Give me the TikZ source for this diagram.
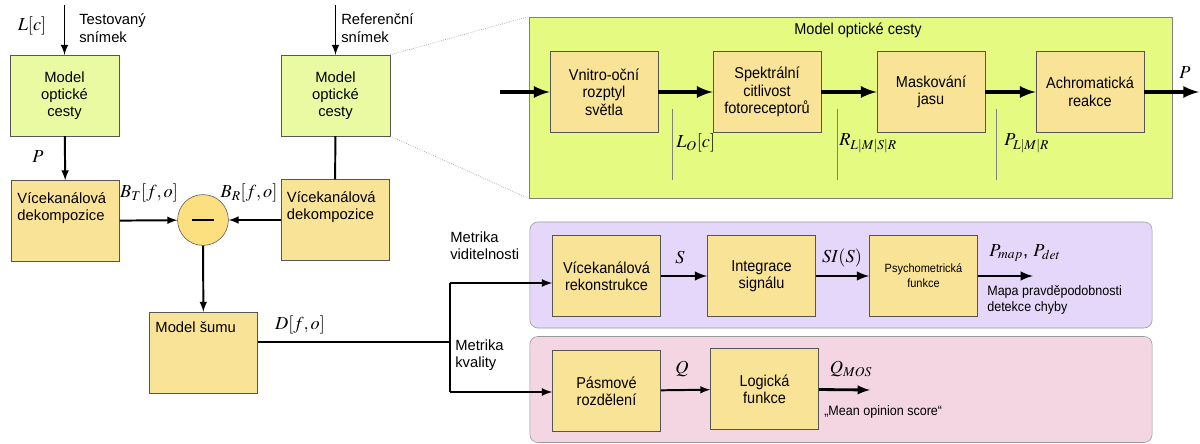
\documentclass[tikz,border=0pt]{standalone}
\usepackage{mathptmx}
\usepackage{fontspec}
\setmainfont{Liberation Sans}
\newfontfamily\narrowfont[FakeStretch=0.92]{Liberation Sans}

\definecolor{optgreen}{HTML}{E9FAA3}
\definecolor{biggreen}{HTML}{E5FA80}
\definecolor{blockyellow}{HTML}{F9E396}
\definecolor{minusyellow}{HTML}{FCE07F}
\definecolor{visviolet}{HTML}{E5D7FA}
\definecolor{qualpink}{HTML}{F3D6E1}
\definecolor{edgegray}{HTML}{555555}

\tikzset{
  optbox/.style={draw=edgegray,fill=optgreen,minimum width=2.72cm,minimum height=2.02cm,align=center,inner sep=0pt},
  blockbox/.style={draw=edgegray,fill=blockyellow,minimum width=2.7cm,minimum height=2.02cm,align=center,inner sep=0pt},
  txtlab/.style={anchor=north west,align=left,inner sep=0pt,xshift=0.15cm,yshift=-0.3cm},
  minusnode/.style={circle,draw=edgegray,fill=minusyellow,minimum size=1.27cm,inner sep=0pt},
  groupbox/.style={draw=gray!80,rounded corners=0.2cm,minimum width=15.55cm,minimum height=2.65cm},
  conn/.style={->,line width=1.4pt},
  fatconn/.style={->,line width=2.8pt},
  midconn/.style={->,line width=2pt},
  plainlab/.style={align=left,inner sep=0pt},
  mathlab/.style={inner sep=0pt,font=\fontsize{13}{15}\selectfont},
  innerfont/.style={font=\narrowfont\fontsize{11.2}{12.4}\selectfont},
}

\begin{document}
\begin{tikzpicture}[x=0.025cm,y=-0.025cm,>=latex,font=\fontsize{10.5}{12.3}\selectfont]
  \useasboundingbox (0,0) rectangle (1200,444);

  % left part
  \node[optbox] (optT) at (64.5,95.5) {Model\\optické\\cesty};
  \node[optbox] (optR) at (335.5,95.5) {Model\\optické\\cesty};
  \node[blockbox,label={[txtlab]north west:Vícekanálová\\dekompozice}] (dekT) at (65.5,221) {};
  \node[blockbox,label={[txtlab]north west:Vícekanálová\\dekompozice}] (dekR) at (335,220) {};
  \node[minusnode] (minus) at (203,220) {\rule[-1pt]{0.55cm}{2pt}};
  \node[blockbox,label={[txtlab,yshift=0.05cm]north west:Model šumu}] (sum) at (203.5,352.5) {};

  \coordinate (inT) at (64.5,5);
  \coordinate (inR) at (335.5,5);
  \node[mathlab] (lc) at (32,26) {$L[c]$};
  \node[plainlab,anchor=west] (testlab) at (79,28) {Testovaný\\snímek};
  \node[plainlab,anchor=west] (reflab) at (341,28) {Referenční\\snímek};
  \node[mathlab] (plab) at (38,157) {$P$};
  \node[mathlab] (btlab) at (149,193) {$B_T[f,o]$};
  \node[mathlab] (brlab) at (249,193) {$B_R[f,o]$};
  \node[mathlab] (dlab) at (300,325) {$D[f,o]$};

  \draw[conn] (inT) -- (optT);
  \draw[conn] (inR) -- (optR);
  \draw[conn] (optT) -- (dekT);
  \draw[line width=1.4pt] (optR) -- (dekR);
  \draw[conn] (dekT) -- (minus);
  \draw[conn] (dekR) -- (minus);
  \draw[conn] (minus) -- (sum);

  % model opticke cesty
  \node[draw=gray,fill=biggreen,minimum width=16.08cm,minimum height=4.53cm] (optbig) at (850.5,107.5) {};
  \node[inner sep=0pt,innerfont] (opttitle) at (858,30) {Model optické cesty};
  \begin{scope}[innerfont]
    \node[blockbox] (vnitro) at (604,92) {Vnitro-oční\\rozptyl\\světla};
    \node[blockbox] (spek) at (767,92) {Spektrální\\citlivost\\fotoreceptorů};
    \node[blockbox] (mask) at (931,92) {Maskování\\jasu};
    \node[blockbox] (achrom) at (1090,92) {Achromatická\\reakce};
  \end{scope}
  \coordinate (optin) at (500,92);
  \coordinate (optout) at (1199,92);
  \draw[fatconn] (optin) -- (vnitro);
  \draw[fatconn] (vnitro) -- (spek);
  \draw[fatconn] (spek) -- (mask);
  \draw[fatconn] (mask) -- (achrom);
  \draw[fatconn] (achrom) -- (optout);
  \draw[gray] (672,109) -- (672,180);
  \draw[gray] (837,109) -- (837,180);
  \draw[gray] (996,109) -- (996,180);
  \node[mathlab,anchor=west] (lolab) at (676,143) {$L_O[c]$};
  \node[mathlab,anchor=west] (rlab) at (839,143) {$R_{L|M|S|R}$};
  \node[mathlab,anchor=west] (pllab) at (1004,143) {$P_{L|M|R}$};
  \node[mathlab] (poutlab) at (1185,73) {$P$};
  \draw[gray,densely dotted] (optR.north east) -- (optbig.north west);
  \draw[gray,densely dotted] (optR.south east) -- (optbig.south west);

  % metrika viditelnosti
  \node[groupbox,fill=visviolet] (visgroup) at (841,275) {};
  \begin{scope}[innerfont]
    \node[blockbox] (rek) at (606.5,276) {Vícekanálová\\rekonstrukce};
    \node[blockbox] (integ) at (761.5,276) {Integrace\\signálu};
    \node[blockbox,font=\narrowfont\fontsize{8.5}{10.5}\selectfont] (psych) at (923.5,276) {Psychometrická\\funkce};
  \end{scope}
  \coordinate (visout) at (1033,276);
  \draw[midconn] (rek) -- (integ);
  \draw[midconn] (integ) -- (psych);
  \draw[midconn] (psych) -- (visout);
  \node[mathlab] (slab) at (680,258) {$S$};
  \node[mathlab] (silab) at (842,258) {$SI(S)$};
  \node[mathlab,anchor=west] (pmaplab) at (989,253) {$P_{map}$, $P_{det}$};
  \node[plainlab,anchor=west,font=\narrowfont\fontsize{9.7}{11.5}\selectfont] (maplab) at (987,300) {Mapa pravděpodobnosti\\detekce chyby};

  % metrika kvality
  \node[groupbox,fill=qualpink] (qualgroup) at (841,389.5) {};
  \begin{scope}[innerfont]
    \node[blockbox] (pas) at (606.5,391) {Pásmové\\rozdělení};
    \node[blockbox] (logf) at (764.5,389) {Logická\\funkce};
  \end{scope}
  \coordinate (qualout) at (870,390);
  \draw[conn] (pas) -- (logf);
  \draw[midconn] (logf) -- (qualout);
  \node[mathlab] (qlab) at (682,369) {$Q$};
  \node[mathlab] (qmoslab) at (851,369) {$Q_{MOS}$};
  \node[plainlab,anchor=west,font=\narrowfont\fontsize{9.7}{11.5}\selectfont] (moslab) at (824,412) {„Mean opinion score“};

  % rozdeleni
  \coordinate (split) at (450,342);
  \coordinate (jtop) at (450,283);
  \coordinate (jbot) at (450,392);
  \draw[line width=1.4pt] (sum.east |- split) -- (split);
  \draw[line width=1.5pt] (jtop) -- (jbot);
  \draw[conn,line width=1.5pt] (jtop) -- (jtop -| rek.west);
  \draw[conn,line width=1.5pt] (jbot) -- (jbot -| pas.west);
  \node[plainlab,anchor=west] (vislab) at (450,246) {Metrika\\viditelnosti};
  \node[plainlab,anchor=west] (quallab) at (455,355) {Metrika\\kvality};
\end{tikzpicture}
\end{document}
